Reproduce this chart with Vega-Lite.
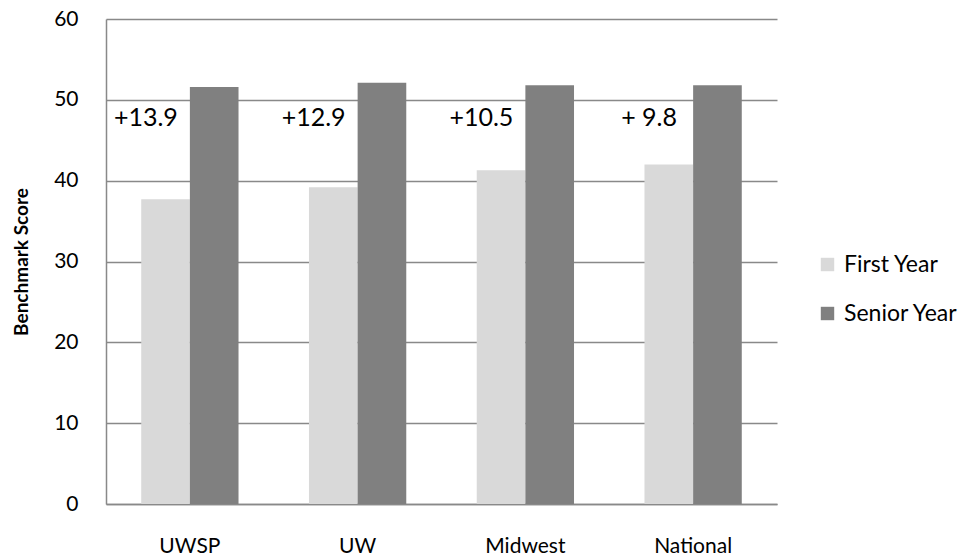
{
  "$schema": "https://vega.github.io/schema/vega-lite/v6.json",
  "autosize": {"type": "none"},
  "padding": {"left": 106, "top": 19, "right": 188, "bottom": 55},
  "width": 671,
  "height": 485,
  "background": "white",
  "config": {
    "font": "Lato",
    "view": {"stroke": null},
    "axis": {"labelFont": "Lato", "titleFont": "Lato", "labelColor": "black", "titleColor": "black"}
  },
  "datasets": {
    "bars": [
      {"group": "UWSP", "series": "First Year", "score": 37.7},
      {"group": "UWSP", "series": "Senior Year", "score": 51.6},
      {"group": "UW", "series": "First Year", "score": 39.2},
      {"group": "UW", "series": "Senior Year", "score": 52.1},
      {"group": "Midwest", "series": "First Year", "score": 41.3},
      {"group": "Midwest", "series": "Senior Year", "score": 51.8},
      {"group": "National", "series": "First Year", "score": 42.0},
      {"group": "National", "series": "Senior Year", "score": 51.8}
    ],
    "labels": [
      {"group": "UWSP", "label": "+13.9"},
      {"group": "UW", "label": "+12.9"},
      {"group": "Midwest", "label": "+10.5"},
      {"group": "National", "label": "+ 9.8"}
    ]
  },
  "layer": [
    {
      "data": {"name": "bars"},
      "mark": {"type": "bar"},
      "encoding": {
        "x": {
          "field": "group", "type": "nominal",
          "sort": ["UWSP", "UW", "Midwest", "National"],
          "scale": {"paddingInner": 0.42, "paddingOuter": 0.21},
          "axis": {
            "title": null, "labelAngle": 0, "labelFontSize": 21, "ticks": false,
            "labelPadding": 31, "domainColor": "#898989", "domainWidth": 1.5
          }
        },
        "xOffset": {"field": "series", "type": "nominal", "sort": ["First Year", "Senior Year"]},
        "y": {
          "field": "score", "type": "quantitative",
          "scale": {"domain": [0, 60], "nice": false},
          "axis": {
            "title": "Benchmark Score", "titleFontSize": 19, "titleFontWeight": "bold",
            "titlePadding": 22,
            "values": [0, 10, 20, 30, 40, 50, 60], "labelFontSize": 21, "ticks": false,
            "labelPadding": 28, "domainColor": "#898989", "domainWidth": 1.5,
            "grid": true, "gridColor": "#898989", "gridWidth": 1.5
          }
        },
        "color": {
          "field": "series", "type": "nominal",
          "scale": {"domain": ["First Year", "Senior Year"], "range": ["#d9d9d9", "#808080"]},
          "legend": {
            "title": null, "orient": "none", "legendX": 710, "legendY": 234,
            "symbolType": "square", "symbolSize": 180, "symbolStrokeWidth": 0,
            "labelFontSize": 23, "labelFont": "Lato", "labelColor": "black",
            "rowPadding": 25, "labelOffset": 5
          }
        }
      }
    },
    {
      "data": {"name": "labels"},
      "mark": {"type": "text", "fontSize": 25, "font": "Lato", "color": "black", "align": "center", "baseline": "middle", "dx": -44},
      "encoding": {
        "x": {"field": "group", "type": "nominal", "sort": ["UWSP", "UW", "Midwest", "National"]},
        "y": {"datum": 47.8},
        "text": {"field": "label"}
      }
    }
  ]
}
